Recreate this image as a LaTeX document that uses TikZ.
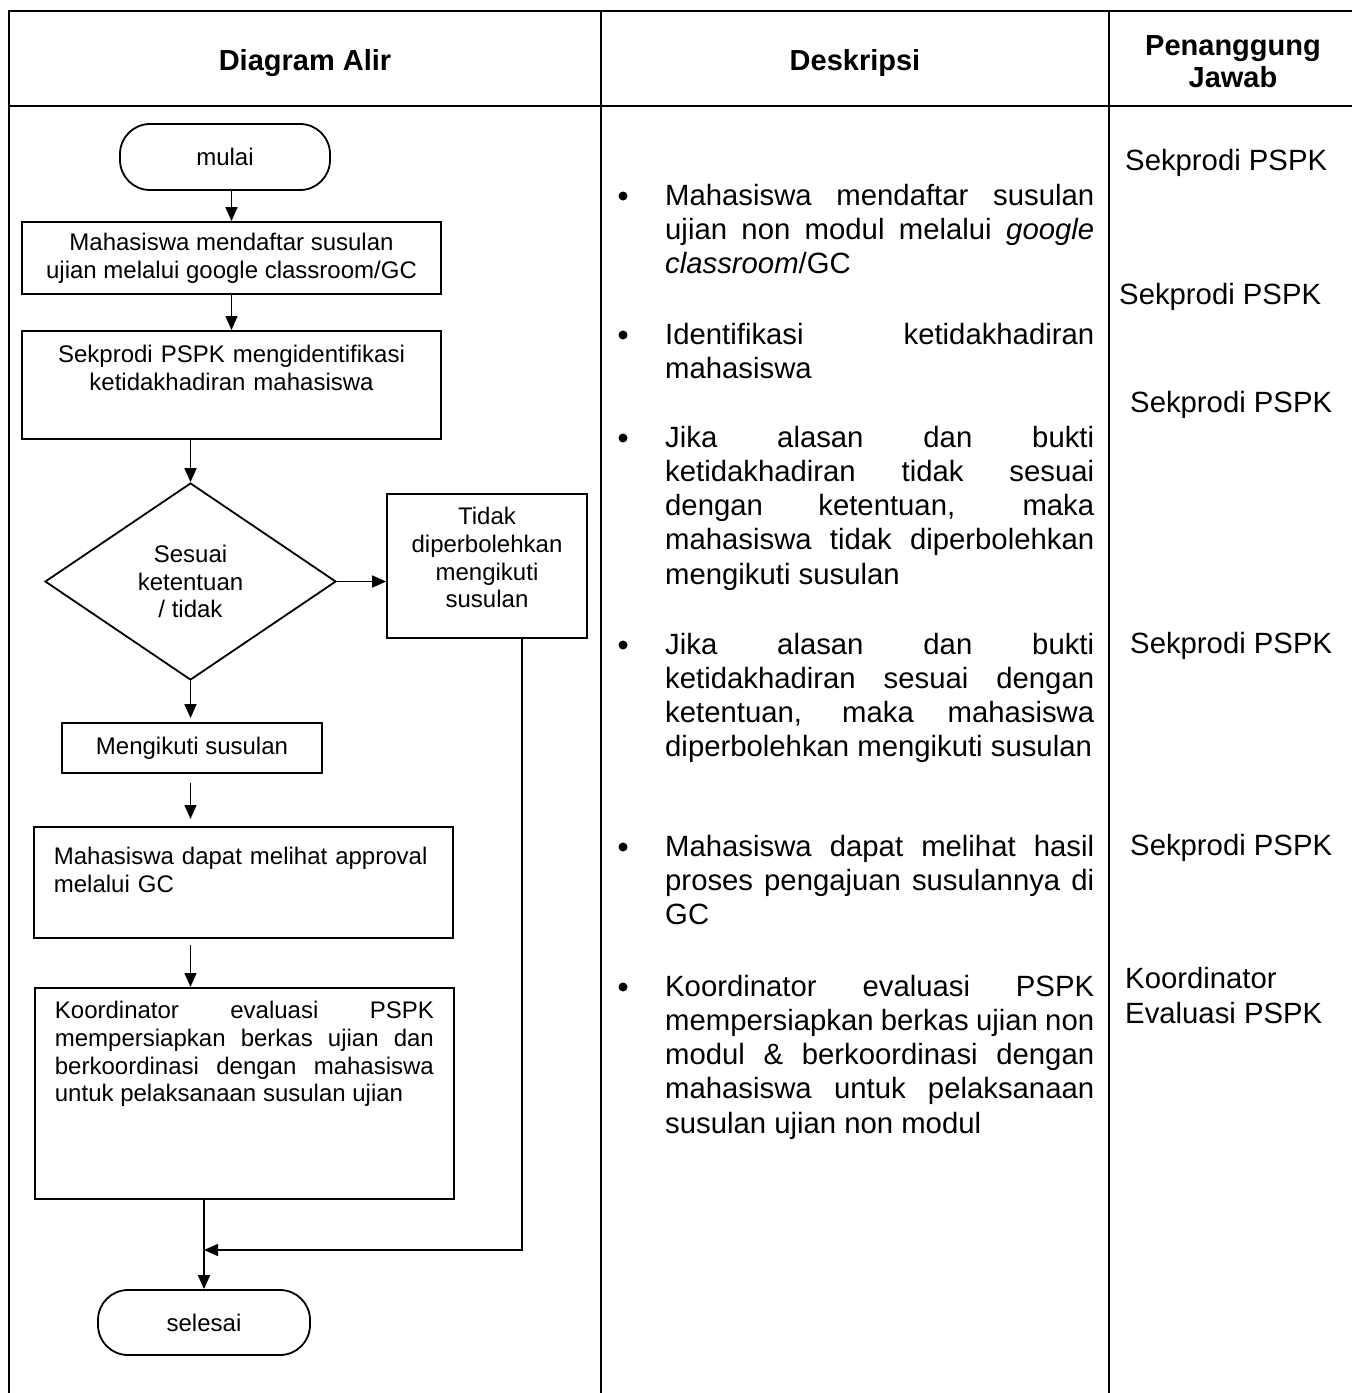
\documentclass[tikz,border=0pt]{standalone}
\usepackage{fontspec}
\setmainfont{Liberation Sans}
\usetikzlibrary{arrows.meta,shapes.geometric,calc}
\newcommand\fcfont{\fontsize{24}{27.6}\selectfont}
\newcommand\dsfont{\fontsize{29.3}{34.3}\selectfont}
\newcommand\hdfont{\fontsize{29}{32}\selectfont\bfseries}
\begin{document}
\begin{tikzpicture}[x=1pt,y=-1pt,
  tbl/.style={line width=2.4pt},
  fbox/.style={draw, line width=1.8pt, rectangle, inner sep=0pt, font=\fcfont, align=center},
  term/.style={draw, line width=1.8pt, rounded corners=30pt, inner sep=0pt, font=\fcfont},
  arr/.style={line width=1.5pt, -{Triangle[length=14pt,width=12pt]}},
  hd/.style={font=\hdfont, inner sep=0pt, anchor=base, align=center},
  ds/.style={font=\dsfont, inner sep=0pt, anchor=base west, text width=429pt, align=justify},
  pj/.style={font=\dsfont, inner sep=0pt, anchor=base west, align=left},
  bul/.style={circle, fill, inner sep=0pt, minimum size=9pt}
]
\useasboundingbox (0,0) rectangle (1352,1393);
% table
\draw[tbl] (9,1393) -- (9,11) -- (1352,11);
\draw[tbl] (9,106) -- (1352,106);
\draw[tbl] (601,11) -- (601,1393);
\draw[tbl] (1109,11) -- (1109,1393);
% headers
\node[hd] (h1) at (305,70) {Diagram Alir};
\node[hd] (h2) at (855,70) {Deskripsi};
\node[hd] (h3) at (1233,87) {Penanggung\\Jawab};
% flowchart
\node[term, minimum width=210pt, minimum height=66pt] (mulai) at (225,157) {mulai};
\node[fbox, minimum width=419pt, minimum height=72pt] (b1) at (231.5,258)
  {Mahasiswa mendaftar susulan\\ujian melalui google classroom/GC};
\node[fbox, text width=419pt, anchor=north, text height=32pt, text depth=76pt] (b2) at (231.5,330)
  {Sekprodi PSPK mengidentifikasi\\ketidakhadiran mahasiswa};
\node[draw, line width=1.8pt, diamond, inner sep=0pt, minimum width=291pt, minimum height=197pt,
  font=\fcfont, align=center] (dia) at (190.5,581.5) {Sesuai\\ketentuan\\/ tidak};
\node[fbox, text width=200pt, anchor=north, text height=31pt, text depth=113pt] (b3) at (487,493)
  {Tidak\\diperbolehkan\\mengikuti\\susulan};
\node[fbox, minimum width=260pt, minimum height=50pt] (b4) at (192,748) {Mengikuti susulan};
\node[fbox, anchor=north west, text width=379pt, inner xsep=20pt, align=left,
  text height=38pt, text depth=73pt] (b5) at (33,826)
  {Mahasiswa dapat melihat approval\\melalui GC};
\node[fbox, anchor=north west, text width=379pt, inner xsep=20pt, align=justify,
  text height=31pt, text depth=180pt] (b6) at (34,987)
  {Koordinator evaluasi PSPK\linebreak mempersiapkan berkas ujian dan\linebreak berkoordinasi dengan mahasiswa\linebreak untuk pelaksanaan susulan ujian};
\node[term, minimum width=212pt, minimum height=65pt] (end) at (204,1322.5) {selesai};
\coordinate (mrg) at (204,1250);
% connectors
\draw[arr] (mulai.south -| b1.north) -- (b1.north);
\draw[arr] (b1.south) -- (b2.north);
\draw[arr] (b2.south -| dia.north) -- (dia.north);
\draw[arr] (dia.east) -- (dia.east -| b3.west);
\draw[arr, shorten >=4pt] (dia.south) -- (dia.south |- b4.north);
\draw[arr, shorten <=9pt, shorten >=7pt] (b4.south -| dia.south) -- (dia.south |- b5.north);
\draw[arr, shorten <=6pt] (b5.south -| dia.south) -- (dia.south |- b6.north);
\draw[arr] (b6.south -| end.north) -- (end.north);
\draw[arr] ([xshift=35pt]b3.south) |- (mrg);
% description
\node[bul] (u1) at (623,196) {};
\node[ds] (d1) at (665,205) {Mahasiswa mendaftar susulan\linebreak ujian non modul melalui \emph{google}\linebreak \emph{classroom}/GC};
\node[bul] (u2) at (623,335) {};
\node[ds] (d2) at (665,344) {Identifikasi ketidakhadiran\linebreak mahasiswa};
\node[bul] (u3) at (623,438) {};
\node[ds] (d3) at (665,447) {Jika alasan dan bukti\linebreak ketidakhadiran tidak sesuai\linebreak dengan ketentuan, maka\linebreak mahasiswa tidak diperbolehkan\linebreak mengikuti susulan};
\node[bul] (u4) at (623,645) {};
\node[ds] (d4) at (665,654) {Jika alasan dan bukti\linebreak ketidakhadiran sesuai dengan\linebreak ketentuan, maka mahasiswa\linebreak diperbolehkan mengikuti susulan};
\node[bul] (u5) at (623,847) {};
\node[ds] (d5) at (665,856) {Mahasiswa dapat melihat hasil\linebreak proses pengajuan susulannya di\linebreak GC};
\node[bul] (u6) at (623,987) {};
\node[ds] (d6) at (665,996) {Koordinator evaluasi PSPK\linebreak mempersiapkan berkas ujian non\linebreak modul \& berkoordinasi dengan\linebreak mahasiswa untuk pelaksanaan\linebreak susulan ujian non modul};
% penanggung jawab
\node[pj] (p1) at (1125,170) {Sekprodi PSPK};
\node[pj] (p2) at (1119,304) {Sekprodi PSPK};
\node[pj] (p3) at (1130,412) {Sekprodi PSPK};
\node[pj] (p4) at (1130,653) {Sekprodi PSPK};
\node[pj] (p5) at (1130,855) {Sekprodi PSPK};
\node[pj] (p6) at (1125,1023) {Koordinator\\Evaluasi PSPK};
\end{tikzpicture}
\end{document}
